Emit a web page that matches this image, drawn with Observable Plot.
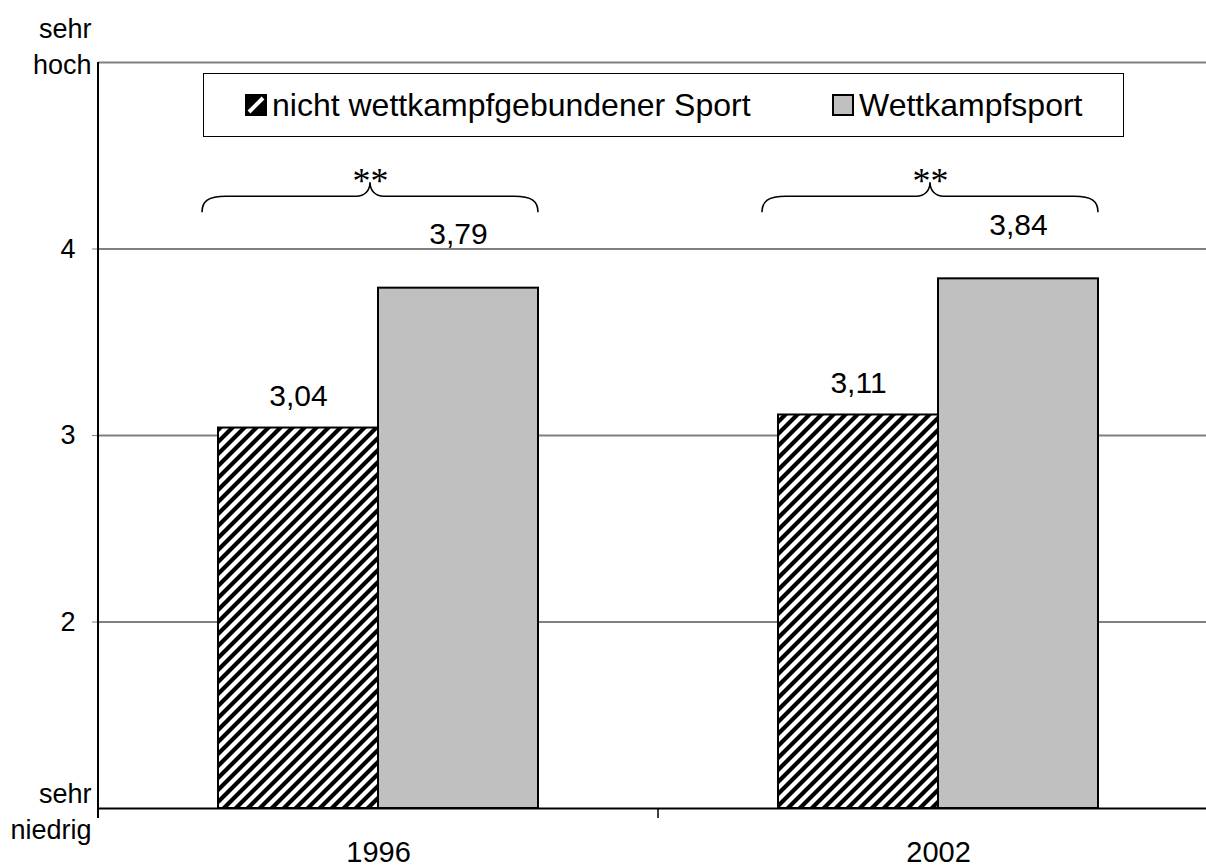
<!DOCTYPE html>
<html>
<head>
<meta charset="utf-8">
<script src="https://cdn.jsdelivr.net/npm/d3@7"></script>
<script src="https://cdn.jsdelivr.net/npm/@observablehq/plot@0.6"></script>
<style>
  html, body { margin: 0; padding: 0; background: #fff; overflow: hidden; }
  body { font-family: Arial, "Liberation Sans", Helvetica, sans-serif; }
  #wrap { position: relative; width: 1206px; height: 868px; }
  #legend {
    position: absolute; left: 203px; top: 73px; width: 921px; height: 64px;
    box-sizing: border-box; border: 1px solid #000; background: #fff;
    font-size: 32px; color: #000;
  }
  .item { position: absolute; top: 0; height: 62px; display: flex; align-items: center; white-space: nowrap; }
  .item svg { margin-right: 5px; }
</style>
</head>
<body>
<div id="wrap">
  <div id="chart"></div>
  <div id="legend"></div>
</div>
<script>
// ---- data ----
const years = ["1996", "2002"];
const seriesNames = ["nicht wettkampfgebundener Sport", "Wettkampfsport"];
const nonCompetitive = [3.04, 3.11];
const competitive = [3.79, 3.84];
const significance = ["**", "**"];
const yTicks = [2, 3, 4];
const gridValues = [2, 3, 4, 5];
const yDomain = [1, 5];
const yEndLabels = ["sehr\nniedrig", "sehr\nhoch"];
const braceLevel = 4.28; // data units where the significance braces sit

// ---- table built from arrays ----
const rowsA = years.map((y, i) => ({year: y, value: nonCompetitive[i], series: seriesNames[0]}));
const rowsB = years.map((y, i) => ({year: y, value: competitive[i], series: seriesNames[1]}));
const fmt = v => d3.format(".2f")(v).replace(".", ",");

const xs = Plot.scale({x: {type: "band", domain: years, range: [98, 1218], paddingInner: 240 / 560, paddingOuter: 120 / 560}});
const half = xs.bandwidth / 2;

const plot = Plot.plot({
  width: 1206,
  height: 868,
  marginTop: 62,
  marginBottom: 60,
  marginLeft: 98,
  marginRight: 0,
  style: {fontFamily: "Arial, 'Liberation Sans', Helvetica, sans-serif", fontSize: "27px", color: "#000", background: "#fff", overflow: "visible"},
  x: {type: "band", domain: years, range: [98, 1218], paddingInner: 240 / 560, paddingOuter: 120 / 560, axis: null},
  y: {domain: yDomain, axis: null},
  marks: [
    Plot.ruleY(gridValues, {stroke: "#808080", strokeWidth: 2}),
    Plot.barY(rowsA, {x: "year", y1: yDomain[0], y2: "value", fill: "url(#hatch)", stroke: "#000", strokeWidth: 2, insetRight: half}),
    Plot.barY(rowsB, {x: "year", y1: yDomain[0], y2: "value", fill: "#c0c0c0", stroke: "#000", strokeWidth: 2, insetLeft: half}),
    Plot.ruleY([yDomain[0]], {stroke: "#000", strokeWidth: 2}),
    Plot.axisY({ticks: yTicks, tickFormat: d3.format("d"), label: null, tickSize: 6, tickPadding: 17, fontSize: 27, stroke: "#808080", fill: "#000"}),
    Plot.text([yDomain[1]], {y: d => d, text: () => yEndLabels[1], frameAnchor: "left", textAnchor: "end", dx: -7, dy: 11, lineAnchor: "bottom", lineHeight: 1.3, fontSize: 27, fill: "#000"}),
    Plot.text([yDomain[0]], {y: d => d, text: () => yEndLabels[0], frameAnchor: "left", textAnchor: "end", dx: -7, dy: 30, lineAnchor: "bottom", lineHeight: 1.3, fontSize: 27, fill: "#000"}),
    Plot.axisX({label: null, tickSize: 0, tickPadding: 33, fontSize: 29, fill: "#000"}),
    Plot.text(rowsA, {x: "year", y: "value", text: d => fmt(d.value), dx: -half / 2, dy: -22, lineAnchor: "bottom", fontSize: 30, fill: "#000"}),
    Plot.text(rowsB, {x: "year", y: "value", text: d => fmt(d.value), dx: half / 2, dy: -44, lineAnchor: "bottom", fontSize: 30, fill: "#000"}),
    Plot.text(years, {x: d => d, y: () => braceLevel, text: (d, i) => significance[i], dx: -8, dy: -4, lineAnchor: "bottom", fontSize: 36, fontFamily: "'Liberation Serif', 'Times New Roman', serif", fill: "#000"})
  ]
});

// ---- post-render: pattern, axis line, category ticks, braces ----
const svg = d3.select(plot);
const defs = svg.insert("defs", ":first-child");
const pat = defs.append("pattern").attr("id", "hatch").attr("patternUnits", "userSpaceOnUse").attr("width", 12).attr("height", 12);
pat.append("rect").attr("width", 12).attr("height", 12).attr("fill", "#fff");
pat.append("path").attr("d", "M-3,3L3,-3M0,12L12,0M9,15L15,9").attr("stroke", "#000").attr("stroke-width", 4.2);

const X = plot.scale("x"), Y = plot.scale("y");
const bw = X.bandwidth;
const left = 98;
const yTop = Y.apply(yDomain[1]), yBot = Y.apply(yDomain[0]);
svg.append("line").attr("x1", left).attr("x2", left).attr("y1", yTop).attr("y2", yBot + 10).attr("stroke", "#000").attr("stroke-width", 2);
const boundary = (X.apply(years[0]) + bw + X.apply(years[1])) / 2;
svg.append("line").attr("x1", boundary).attr("x2", boundary).attr("y1", yBot).attr("y2", yBot + 10).attr("stroke", "#000").attr("stroke-width", 1.5);

function brace(x0, x1, yb) {
  const cx = (x0 + x1) / 2;
  return `M${x0},${yb + 16} C${x0},${yb + 5} ${x0 + 6},${yb} ${x0 + 24},${yb} L${cx - 14},${yb} C${cx - 5},${yb} ${cx},${yb - 6} ${cx},${yb - 14} C${cx},${yb - 6} ${cx + 5},${yb} ${cx + 14},${yb} L${x1 - 24},${yb} C${x1 - 6},${yb} ${x1},${yb + 5} ${x1},${yb + 16}`;
}
years.forEach(yr => {
  const x0 = X.apply(yr) - 16, x1 = X.apply(yr) + bw;
  svg.append("path").attr("d", brace(x0, x1, Y.apply(braceLevel))).attr("fill", "none").attr("stroke", "#000").attr("stroke-width", 1.6);
});

document.getElementById("chart").appendChild(plot);

// ---- legend (inside plot area, as in reference) ----
const legend = d3.select("#legend");
const it1 = legend.append("div").attr("class", "item").style("left", "41px");
const s1 = it1.append("svg").attr("width", 22).attr("height", 22);
s1.append("rect").attr("x", 1).attr("y", 1).attr("width", 20).attr("height", 20).attr("fill", "#000");
s1.append("line").attr("x1", 4).attr("y1", 18).attr("x2", 18).attr("y2", 4).attr("stroke", "#fff").attr("stroke-width", 4);
s1.append("rect").attr("x", 1).attr("y", 1).attr("width", 20).attr("height", 20).attr("fill", "none").attr("stroke", "#000").attr("stroke-width", 2);
it1.append("span").text(seriesNames[0]);
const it2 = legend.append("div").attr("class", "item").style("left", "628px");
const s2 = it2.append("svg").attr("width", 22).attr("height", 22);
s2.append("rect").attr("x", 1).attr("y", 1).attr("width", 20).attr("height", 20).attr("fill", "#c0c0c0").attr("stroke", "#000").attr("stroke-width", 2);
it2.append("span").text(seriesNames[1]);
</script>
</body>
</html>
